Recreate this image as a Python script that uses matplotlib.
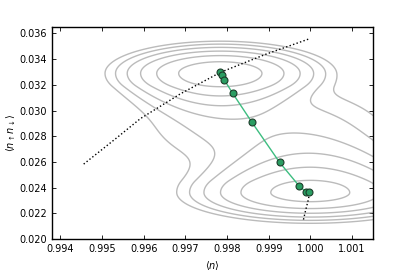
import numpy as np
import matplotlib
matplotlib.use("Agg")
import matplotlib.pyplot as plt

# optimisation path (green)
path_n = [0.99782, 0.99787, 0.99793, 0.99813, 0.99859, 0.99926, 0.99973, 0.99989, 0.99997]
path_nn = [0.03300, 0.03276, 0.03240, 0.03136, 0.02911, 0.02596, 0.02412, 0.02367, 0.02363]

# dotted guide curves
guide1_n = [0.99456, 0.99537, 0.99592, 0.99688, 0.99784, 0.99892, 0.99998]
guide1_nn = [0.02583, 0.02792, 0.02937, 0.03130, 0.03297, 0.03437, 0.03559]
guide2_n = [0.99998, 0.99994, 0.99988, 0.99982]
guide2_nn = [0.02357, 0.02295, 0.02218, 0.02134]

# landscape: upper well, lower well, connecting valley
well_cx = [0.997837, 0.999995, 0.998940]
well_cy = [0.032893, 0.023612, 0.028621]
well_sx = [0.000815, 0.000966, 0.001415]
well_sy_above = [0.000738, 0.000971, 0.001709]
well_sy_below = [0.000847, 0.000722, 0.001709]
well_k_above = [99.0, 0.96, 99.0]
well_k_below = [1.2, 99.0, 99.0]
well_offset = [0.0, 0.27, 4.3]
levels = [0.75, 1.75, 2.75, 3.75, 4.75, 5.75]


def huber(t, k):
    return np.where(t < k, 0.5 * t**2, k * t - 0.5 * k**2)


def landscape(X, Y):
    total = np.zeros_like(X)
    for i in range(len(well_cx)):
        dx = (X - well_cx[i]) / well_sx[i]
        dy = Y - well_cy[i]
        above = dy > 0
        t = np.where(above, dy / well_sy_above[i], -dy / well_sy_below[i])
        k = np.where(above, well_k_above[i], well_k_below[i])
        q = 0.5 * dx**2 + huber(t, k) + well_offset[i]
        total += np.exp(-q)
    return -np.log(total)


plt.rcParams["font.size"] = 7
fig = plt.figure(figsize=(4.15, 2.77), dpi=100)
ax = fig.add_axes([0.1253, 0.1372, 0.7735, 0.7653])

xs = np.linspace(0.9936, 1.0017, 500)
ys = np.linspace(0.0198, 0.0367, 500)
X, Y = np.meshgrid(xs, ys)
ax.contour(X, Y, landscape(X, Y), levels=levels, colors="#bbbbbb", linewidths=1.0)

ax.plot(guide1_n, guide1_nn, ":", color="black", lw=1.0)
ax.plot(guide2_n, guide2_nn, ":", color="black", lw=1.0)
ax.plot(path_n, path_nn, "-", color="#3dbd80", lw=1.0, zorder=3)
ax.plot(path_n, path_nn, "o", mfc="#2a9d62", mec="#1c3d2a", ms=5, mew=0.8, zorder=4)

ax.set_xlim(0.9938, 1.0015)
ax.set_ylim(0.020, 0.0365)
ax.set_xticks(np.arange(0.994, 1.0015, 0.001))
ax.set_yticks(np.arange(0.020, 0.0365, 0.002))
ax.xaxis.set_major_formatter(matplotlib.ticker.FormatStrFormatter("%.3f"))
ax.yaxis.set_major_formatter(matplotlib.ticker.FormatStrFormatter("%.3f"))
ax.tick_params(direction="in", top=True, right=True, length=3, width=0.6)
for s in ax.spines.values():
    s.set_linewidth(1.0)
ax.set_xlabel(r"$\langle n \rangle$", labelpad=4)
ax.set_ylabel(r"$\langle n_\uparrow n_\downarrow \rangle$", labelpad=1)

fig.savefig("out.png", dpi=100)
